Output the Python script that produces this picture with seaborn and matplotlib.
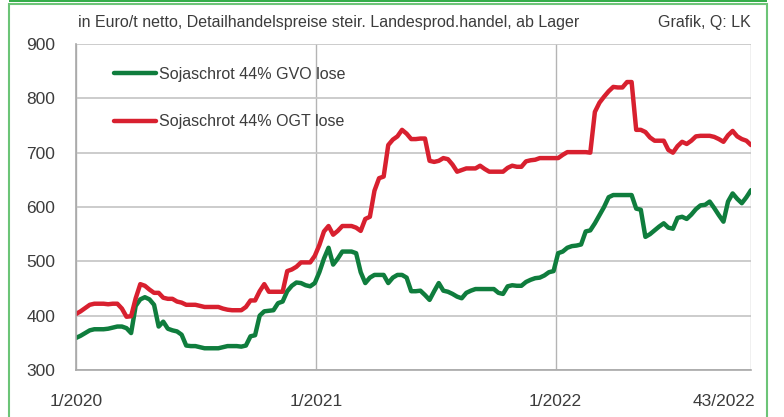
import pandas as pd
import matplotlib.pyplot as plt
import matplotlib.transforms as mtransforms
import seaborn as sns
from matplotlib.patches import Rectangle

# weekly prices in Euro/t, week 1/2020 .. 43/2022
gvo = [359, 363, 368, 373, 375, 375, 375, 376, 378, 380,
       380, 377, 368, 418, 430, 434, 430, 420, 380, 389,
       376, 373, 371, 365, 345, 344, 344, 342, 340, 340,
       340, 340, 342, 344, 344, 344, 343, 345, 362, 364,
       400, 408, 409, 410, 423, 426, 445, 455, 461, 460,
       456, 454, 460, 480, 505, 525, 494, 505, 518, 518,
       518, 515, 480, 460, 470, 475, 475, 475, 460, 470,
       475, 475, 470, 445, 445, 446, 438, 429, 445, 460,
       446, 444, 440, 435, 432, 442, 446, 449, 449, 449,
       449, 449, 442, 440, 454, 456, 455, 455, 462, 466,
       469, 470, 474, 480, 482, 515, 518, 525, 528, 529,
       531, 555, 557, 570, 585, 600, 618, 622, 622, 622,
       622, 622, 597, 595, 545, 550, 557, 564, 570, 562,
       560, 580, 582, 578, 586, 596, 603, 604, 610, 598,
       585, 573, 610, 625, 615, 607, 618, 631]

ogt = [403, 408, 414, 420, 422, 422, 422, 421, 422, 422,
       413, 398, 399, 432, 458, 455, 448, 442, 442, 433,
       431, 431, 426, 424, 420, 420, 420, 418, 416, 416,
       416, 416, 413, 411, 410, 410, 410, 416, 428, 428,
       445, 458, 444, 444, 444, 444, 482, 485, 490, 498,
       498, 498, 510, 530, 555, 565, 549, 556, 565, 565,
       565, 562, 556, 578, 582, 630, 653, 656, 714, 724,
       730, 742, 735, 725, 725, 726, 726, 685, 683, 685,
       690, 688, 678, 665, 668, 671, 671, 671, 676, 670,
       665, 665, 665, 665, 672, 676, 674, 674, 684, 686,
       687, 690, 690, 690, 690, 690, 696, 701, 701, 701,
       701, 701, 700, 775, 792, 803, 813, 821, 820, 820,
       830, 830, 742, 742, 738, 728, 722, 722, 722, 705,
       700, 712, 720, 716, 722, 730, 731, 731, 731, 729,
       725, 720, 732, 740, 730, 725, 722, 714]

labels = ['Sojaschrot 44% GVO lose', 'Sojaschrot 44% OGT lose']
tick_labels = ['1/2020', '1/2021', '1/2022', '43/2022']
yticks = [300, 400, 500, 600, 700, 800, 900]

dates = pd.date_range('2020-01-01', periods=len(gvo), freq='7D')
df = pd.concat([
    pd.DataFrame({'Datum': dates, 'Preis': gvo, 'Sorte': labels[0]}),
    pd.DataFrame({'Datum': dates, 'Preis': ogt, 'Sorte': labels[1]}),
])

sns.set_style('white')
plt.rcParams['font.family'] = ['Liberation Sans', 'DejaVu Sans']
txt = '#3c3c3c'

fig = plt.figure(figsize=(7.84, 4.17), dpi=100)
ax = fig.add_axes([76/784, 1-370/417, 675/784, 326/417])

sns.lineplot(data=df, x='Datum', y='Preis', hue='Sorte', ax=ax,
             palette=['#0f7d3d', '#d8202f'], linewidth=3.2, legend=True)

ax.set_ylim(300, 900)
ax.set_xlim(dates[0], dates[-1])
ax.set_yticks(yticks)
xt = [pd.Timestamp('2020-01-01'), pd.Timestamp('2021-01-01'),
      pd.Timestamp('2022-01-01'), dates[-1]]
ax.set_xticks(xt)
ax.set_xticklabels(tick_labels)
ax.set_xlabel('')
ax.set_ylabel('')

ax.grid(axis='y', color='#c8c8c8', linewidth=1.3)
ax.grid(axis='x', color='#b4b4b4', linewidth=1.0)
for s in ['top', 'right']:
    ax.spines[s].set_visible(False)
for s in ['left', 'bottom']:
    ax.spines[s].set_color('#a8a8a8')
    ax.spines[s].set_linewidth(1.2)

ax.tick_params(axis='x', length=5, color='#b4b4b4', pad=12, labelsize=12.5, labelcolor=txt)
ax.tick_params(axis='y', length=0, pad=15, labelsize=12.5, labelcolor=txt)
last = ax.get_xticklabels()[-1]
last.set_ha('right')
last.set_transform(last.get_transform() + mtransforms.ScaledTranslation(4/100, 0, fig.dpi_scale_trans))

leg = ax.legend(loc='upper left', bbox_to_anchor=(0.035, 0.975), frameon=False,
                fontsize=11.5, handlelength=2.6, handletextpad=0.2, labelspacing=2.05,
                labelcolor=txt)

fig.text(78/784, 1-22/417, 'in Euro/t netto, Detailhandelspreise steir. Landesprod.handel, ab Lager',
         fontsize=11.5, color=txt, va='center', ha='left')
fig.text(751/784, 1-22/417, 'Grafik, Q: LK', fontsize=11.5, color=txt, va='center', ha='right')

# green frame of the graphic
fig.patches.append(Rectangle((9/784, -0.05), 758/784, 1.04, transform=fig.transFigure,
                             fill=False, edgecolor='#6cc477', linewidth=1.5))
fig.patches.append(Rectangle((9/784, 1-2/417), 758/784, 2/417, transform=fig.transFigure,
                             facecolor='#35ad4a', edgecolor='none'))

fig.savefig('out.png', dpi=100)
